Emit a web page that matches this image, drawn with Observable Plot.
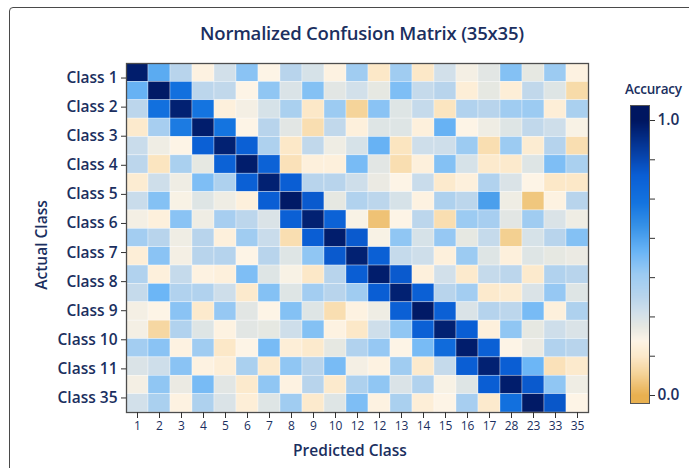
<!DOCTYPE html>
<html><head><meta charset="utf-8">
<script src="https://cdn.jsdelivr.net/npm/d3@7"></script>
<script src="https://cdn.jsdelivr.net/npm/@observablehq/plot@0.6"></script>
<style>
body{margin:0;background:#fff;font-family:"Open Sans",sans-serif;width:689px;height:468px;overflow:hidden;position:relative;}
#card{position:absolute;left:9px;top:7px;width:720px;height:480px;border:1.5px solid #4a4a4a;border-radius:4px;pointer-events:none;}
#title{position:absolute;left:0;top:19px;width:724px;text-align:center;font-size:18.5px;font-weight:600;color:#1b2f60;line-height:28px;letter-spacing:-0.2px;}
#main{position:absolute;left:0;top:50px;}
#legend{position:absolute;left:590px;top:70px;}
#legtitle{position:absolute;left:625px;top:80px;font-size:13.5px;font-weight:600;color:#1b2f60;white-space:nowrap;letter-spacing:-0.2px;}
#xtitle{position:absolute;left:0;top:439px;width:700px;text-align:center;font-size:15.5px;font-weight:600;color:#1b2f60;}
#ytitle{position:absolute;left:41px;top:245px;transform:translate(-50%,-50%) rotate(-90deg);font-size:15.5px;font-weight:600;color:#1b2f60;white-space:nowrap;}
</style></head><body>
<div id="title">Normalized Confusion Matrix (35x35)</div>
<div id="main"></div>
<div id="legtitle">Accuracy</div>
<div id="legend"></div>
<div id="xtitle">Predicted Class</div>
<div id="ytitle">Actual Class</div>
<div id="card"></div>
<script>
const xLabels = ["1","2","3","4","5","6","7","8","9","10","12","12","13","14","15","16","17","28","23","33","35"];
const yLabels = ["Class 1","Class 2","Class 3","Class 4","Class 5","Class 6","Class 7","Class 8","Class 9","Class 10","Class 11","Class 35"];
const legendTicks = [0, 1/7, 2/7, 3/7, 4/7, 5/7, 6/7, 1];

const r01 = [0.98,0.55,0.36,0.19,0.30,0.47,0.20,0.36,0.29,0.19,0.43,0.14,0.43,0.14,0.30,0.22,0.26,0.48,0.25,0.44,0.19];
const r02 = [0.53,0.99,0.72,0.35,0.34,0.20,0.46,0.28,0.48,0.26,0.30,0.25,0.49,0.33,0.36,0.17,0.25,0.17,0.34,0.27,0.10];
const r03 = [0.35,0.72,0.97,0.70,0.18,0.22,0.29,0.40,0.14,0.44,0.08,0.47,0.27,0.33,0.13,0.38,0.36,0.43,0.44,0.17,0.40];
const r04 = [0.15,0.41,0.68,0.98,0.70,0.20,0.36,0.26,0.11,0.34,0.18,0.27,0.27,0.18,0.53,0.20,0.23,0.27,0.34,0.31,0.21];
const r05 = [0.32,0.23,0.20,0.79,0.97,0.79,0.39,0.14,0.34,0.23,0.29,0.53,0.13,0.31,0.31,0.44,0.11,0.44,0.16,0.37,0.11];
const r06 = [0.35,0.13,0.40,0.25,0.78,0.98,0.78,0.12,0.18,0.18,0.50,0.26,0.11,0.18,0.48,0.29,0.15,0.15,0.27,0.49,0.40];
const r07 = [0.16,0.31,0.23,0.49,0.39,0.79,0.97,0.80,0.36,0.36,0.31,0.24,0.20,0.32,0.15,0.18,0.38,0.28,0.20,0.14,0.14];
const r08 = [0.32,0.48,0.21,0.27,0.23,0.18,0.80,0.99,0.81,0.25,0.38,0.35,0.29,0.19,0.39,0.35,0.58,0.23,0.05,0.19,0.36];
const r09 = [0.22,0.18,0.47,0.23,0.41,0.35,0.28,0.79,0.97,0.78,0.21,0.04,0.20,0.35,0.11,0.44,0.41,0.26,0.43,0.28,0.23];
const r10 = [0.42,0.36,0.23,0.36,0.18,0.43,0.32,0.11,0.80,0.98,0.81,0.21,0.46,0.29,0.45,0.25,0.33,0.07,0.29,0.36,0.48];
const r11 = [0.17,0.47,0.22,0.36,0.37,0.20,0.36,0.27,0.46,0.81,0.97,0.79,0.33,0.31,0.18,0.44,0.27,0.18,0.27,0.25,0.24];
const r12 = [0.38,0.18,0.33,0.19,0.18,0.49,0.27,0.21,0.14,0.36,0.80,0.98,0.81,0.18,0.30,0.15,0.33,0.35,0.15,0.38,0.36];
const r13 = [0.33,0.52,0.38,0.38,0.31,0.15,0.48,0.27,0.42,0.36,0.43,0.80,0.97,0.79,0.36,0.42,0.15,0.16,0.28,0.45,0.27];
const r14 = [0.22,0.20,0.47,0.15,0.45,0.26,0.20,0.48,0.27,0.11,0.19,0.23,0.79,0.99,0.79,0.28,0.37,0.35,0.50,0.18,0.39];
const r15 = [0.22,0.09,0.38,0.27,0.19,0.26,0.25,0.31,0.48,0.19,0.14,0.31,0.46,0.79,0.97,0.80,0.18,0.46,0.25,0.31,0.28];
const r16 = [0.42,0.47,0.19,0.43,0.14,0.20,0.50,0.17,0.15,0.25,0.38,0.45,0.20,0.50,0.74,0.98,0.79,0.20,0.24,0.38,0.36];
const r17 = [0.28,0.31,0.47,0.19,0.17,0.40,0.15,0.46,0.36,0.50,0.22,0.19,0.43,0.15,0.33,0.80,0.97,0.80,0.52,0.12,0.15];
const r18 = [0.22,0.46,0.24,0.50,0.26,0.15,0.46,0.19,0.36,0.15,0.39,0.46,0.28,0.38,0.21,0.27,0.80,0.98,0.81,0.46,0.23];
const r19 = [0.30,0.40,0.19,0.39,0.28,0.17,0.27,0.43,0.15,0.27,0.49,0.19,0.40,0.17,0.20,0.41,0.15,0.72,0.99,0.82,0.20];
const matrix = [r01,r02,r03,r04,r05,r06,r07,r08,r09,r10,r11,r12,r13,r14,r15,r16,r17,r18,r19];

const colorStops = [0, 0.08, 0.14, 0.2, 0.25, 0.3, 0.36, 0.44, 0.52, 0.62, 0.7, 0.8, 0.9, 1];
const colorRange = ["#e8b050","#f5d49a","#fce8c8","#fdf4e6","#e6e8e2","#d2e0ea","#b8d4ec","#9ccbf2","#6cb6f6","#3590e6","#1474e0","#0a5ed4","#063a9c","#001660"];

const cells = [];
matrix.forEach((row, i) => row.forEach((v, j) => cells.push({row: i, col: j, v})));
const rowCount = matrix.length;
const colCount = xLabels.length;
const colorOpts = {type: "linear", domain: colorStops, range: colorRange, interpolate: "rgb", clamp: true};
const ink = "#1b2f60";

const yTickVals = yLabels.map((_, k) => (k + 0.5) * rowCount / yLabels.length);
const xTickVals = xLabels.map((_, j) => j + 0.5);

const main = Plot.plot({
  width: 600, height: 418,
  marginLeft: 126, marginRight: 12, marginTop: 13, marginBottom: 56,
  style: {fontFamily: "Open Sans, sans-serif", color: ink, background: "none", overflow: "visible"},
  x: {domain: [0, colCount]},
  y: {domain: [0, rowCount], reverse: true},
  color: colorOpts,
  marks: [
    Plot.rect(cells, {x1: "col", x2: d => d.col + 1, y1: "row", y2: d => d.row + 1, fill: "v", stroke: "white", strokeWidth: 0.6, strokeOpacity: 0.55}),
    Plot.frame({stroke: "#4d4d4d", strokeWidth: 1.3}),
    Plot.axisX(xTickVals, {tickFormat: d => xLabels[Math.round(d - 0.5)], tickSize: 6, tickPadding: 3, fontSize: 12, fontWeight: 500, label: null, stroke: "#333"}),
    Plot.axisY(yTickVals, {tickFormat: d => yLabels[Math.round(d * yLabels.length / rowCount - 0.5)], tickSize: 5, tickPadding: 4, fontSize: 15.5, fontWeight: 600, label: null, stroke: "#333"})
  ]
});
document.getElementById("main").appendChild(main);

const legend = Plot.plot({
  width: 99, height: 345,
  marginLeft: 40, marginRight: 40, marginTop: 35, marginBottom: 12,
  style: {fontFamily: "Open Sans, sans-serif", color: ink, background: "none", overflow: "visible"},
  x: {domain: [0, 1], axis: null},
  y: {domain: [0, 1], range: [325, 50], axis: null},
  color: colorOpts,
  marks: [
    Plot.raster({x1: 0, x2: 1, y1: -0.03, y2: 1.055, fill: (x, y) => y, width: 1, height: 300}),
    Plot.frame({stroke: "#555", strokeWidth: 1}),
    Plot.axisY(legendTicks, {anchor: "right", tickSize: 5, tickPadding: 3, tickFormat: d => (d === 0 || d === 1) ? d.toFixed(1) : "", fontSize: 15.5, fontWeight: 600, label: null, stroke: "#333"})
  ]
});
document.getElementById("legend").appendChild(legend);
</script>
</body></html>
